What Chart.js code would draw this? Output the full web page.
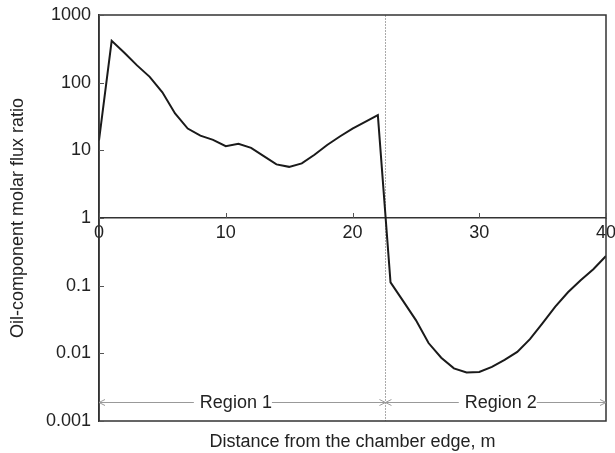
<!DOCTYPE html>
<html>
<head>
<meta charset="utf-8">
<script src="https://cdn.jsdelivr.net/npm/chart.js@4.4.1/dist/chart.umd.min.js"></script>
<style>
  html, body { margin: 0; padding: 0; background: #fff; }
  #wrap { width: 615px; height: 453px; }
</style>
</head>
<body>
<div id="wrap"><canvas id="fluxChart" width="615" height="453"></canvas></div>
<script>
// Distance from the chamber edge (m) and the oil-component molar flux ratio
const distances = [0, 1, 2, 3, 4, 5, 6, 7, 8, 9, 10, 11, 12, 13, 14, 15, 16, 17, 18, 19, 20,
  21, 22, 23, 24, 25, 26, 27, 28, 29, 30, 31, 32, 33, 34, 35, 36, 37, 38, 39, 40];
const fluxRatio = [14, 415, 277, 180, 122, 72, 35, 21, 16.5, 14.3, 11.5, 12.5, 10.9, 8.2, 6.2, 5.7, 6.4,
  8.6, 12, 16, 21, 26.3, 33.2, 0.112, 0.059, 0.031, 0.0142, 0.0086, 0.006, 0.0052, 0.0053,
  0.0063, 0.008, 0.0105, 0.0162, 0.028, 0.049, 0.08, 0.12, 0.175, 0.275];

const xTicks = [0, 10, 20, 30, 40];
const yTicks = [0.001, 0.01, 0.1, 1, 10, 100, 1000];
const yTickLabels = ["0.001", "0.01", "0.1", "1", "10", "100", "1000"];

// Region annotation
const regionBoundary = 22.6;
const regionNames = ["Region 1", "Region 2"];
const regionLabelX = [10.8, 31.7];
const regionArrowLevel = 0.0019;

const FONT = "'Liberation Sans', Arial, sans-serif";
const TEXT = "#222";
const AXIS = "#333";

// keep the plot box where it is, labels may hang over the edges
function noPadding(s) {
  s.paddingLeft = 0;
  s.paddingRight = 0;
  s.paddingTop = 0;
  s.paddingBottom = 0;
}

const annotatePlugin = {
  id: "annotate",
  beforeDatasetsDraw(chart) {
    const { ctx, chartArea, scales } = chart;
    const x = Math.round(scales.x.getPixelForValue(regionBoundary)) + 0.5;
    ctx.save();
    ctx.strokeStyle = "#aaa";
    ctx.lineWidth = 1;
    ctx.setLineDash([2, 1]);
    ctx.beginPath();
    ctx.moveTo(x, chartArea.top);
    ctx.lineTo(x, chartArea.bottom);
    ctx.stroke();
    ctx.restore();
  },
  afterDatasetsDraw(chart) {
    const { ctx, chartArea, scales } = chart;
    const xs = scales.x, ys = scales.y;
    ctx.save();

    // frame round the plot
    ctx.strokeStyle = AXIS;
    ctx.lineWidth = 1.5;
    ctx.strokeRect(chartArea.left, chartArea.top, chartArea.right - chartArea.left, chartArea.bottom - chartArea.top);

    // inward tick marks
    ctx.lineWidth = 1;
    ctx.strokeStyle = "#555";
    ctx.beginPath();
    yTicks.forEach((v) => {
      const y = Math.round(ys.getPixelForValue(v)) + 0.5;
      ctx.moveTo(chartArea.left, y);
      ctx.lineTo(chartArea.left + 5, y);
    });
    const yOne = ys.getPixelForValue(1);
    xTicks.forEach((v) => {
      const x = Math.round(xs.getPixelForValue(v)) + 0.5;
      ctx.moveTo(x, yOne);
      ctx.lineTo(x, yOne - 5);
    });
    ctx.stroke();

    // region arrows
    const lineY = Math.round(ys.getPixelForValue(regionArrowLevel)) + 0.5;
    const edges = [xs.min, regionBoundary, xs.max];
    ctx.strokeStyle = "#999";
    ctx.lineWidth = 1;
    ctx.font = "18px " + FONT;
    for (let i = 0; i < 2; i++) {
      const x0 = xs.getPixelForValue(edges[i]);
      const x1 = xs.getPixelForValue(edges[i + 1]);
      ctx.beginPath();
      ctx.moveTo(x0, lineY);
      ctx.lineTo(x1, lineY);
      ctx.moveTo(x0 + 6, lineY - 3);
      ctx.lineTo(x0, lineY);
      ctx.lineTo(x0 + 6, lineY + 3);
      ctx.moveTo(x1 - 6, lineY - 3);
      ctx.lineTo(x1, lineY);
      ctx.lineTo(x1 - 6, lineY + 3);
      ctx.stroke();

      const cx = xs.getPixelForValue(regionLabelX[i]);
      const w = ctx.measureText(regionNames[i]).width;
      ctx.fillStyle = "#fff";
      ctx.fillRect(cx - w / 2 - 6, lineY - 3, w + 6, 6);
      ctx.fillStyle = TEXT;
      ctx.textAlign = "center";
      ctx.textBaseline = "alphabetic";
      ctx.fillText(regionNames[i], cx, lineY + 5);
    }
    ctx.restore();
  }
};

new Chart(document.getElementById("fluxChart"), {
  type: "line",
  data: {
    datasets: [{
      data: distances.map((d, i) => ({ x: d, y: fluxRatio[i] })),
      borderColor: "#1a1a1a",
      borderWidth: 2,
      pointRadius: 0,
      tension: 0,
      fill: false,
      xAxisID: "x",
      yAxisID: "y"
    }]
  },
  options: {
    responsive: false,
    animation: false,
    devicePixelRatio: 1,
    layout: { padding: { top: 15, right: 9, left: 0, bottom: 0 } },
    plugins: { legend: { display: false }, tooltip: { enabled: false } },
    scales: {
      x: {
        type: "linear",
        position: "bottom",
        min: 0,
        max: 40,
        ticks: { display: false },
        grid: { display: false },
        border: { display: false },
        title: {
          display: true,
          text: "Distance from the chamber edge, m",
          color: TEXT,
          font: { family: FONT, size: 18 },
          padding: 0
        },
        afterFit: (s) => { noPadding(s); s.height = 32; }
      },
      xMid: {
        type: "linear",
        position: { y: 1 },
        min: 0,
        max: 40,
        afterBuildTicks: (s) => { s.ticks = xTicks.map((v) => ({ value: v })); },
        ticks: { padding: 4, color: TEXT, font: { family: FONT, size: 18 }, maxRotation: 0, autoSkip: false },
        grid: { display: false, drawTicks: false },
        border: { display: true, color: AXIS, width: 1.5 },
        afterFit: noPadding
      },
      y: {
        type: "logarithmic",
        position: "left",
        min: 0.001,
        max: 1000,
        afterBuildTicks: (s) => { s.ticks = yTicks.map((v) => ({ value: v })); },
        ticks: {
          padding: 8,
          color: TEXT,
          font: { family: FONT, size: 18 },
          callback: (v) => yTickLabels[yTicks.indexOf(v)]
        },
        grid: { display: false, drawTicks: false },
        border: { display: true, color: AXIS, width: 1.5 },
        title: {
          display: true,
          text: "Oil-component molar flux ratio",
          color: TEXT,
          font: { family: FONT, size: 18 },
          padding: { top: 7, bottom: 0 }
        },
        afterFit: (s) => { noPadding(s); s.width = 99; }
      }
    }
  },
  plugins: [annotatePlugin]
});
</script>
</body>
</html>
